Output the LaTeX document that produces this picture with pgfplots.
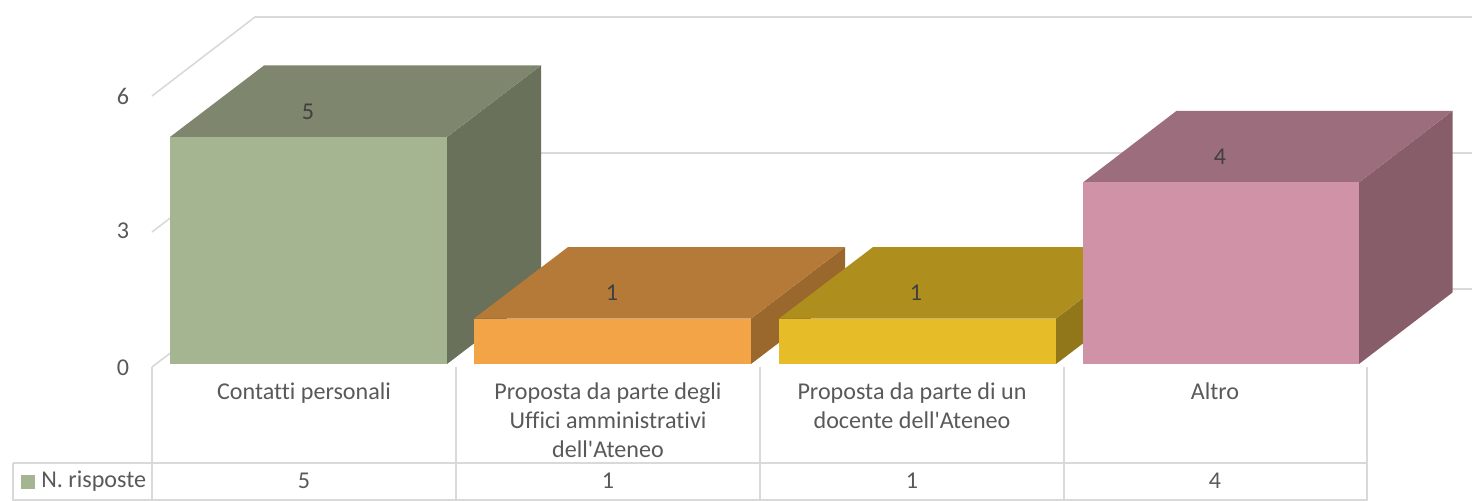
\documentclass[border=0pt]{standalone}
\usepackage{pgfplots}
\pgfplotsset{compat=1.18}
\usepackage{fontspec}
\setmainfont[Ligatures=NoCommon]{Carlito}
\definecolor{gridc}{HTML}{D9D9D9}
\definecolor{txt}{HTML}{595959}
\definecolor{lab}{HTML}{404040}
\definecolor{fa}{HTML}{A5B592}\definecolor{ta}{HTML}{7E866D}\definecolor{sa}{HTML}{69715B}
\definecolor{fb}{HTML}{F3A447}\definecolor{tb}{HTML}{B57A37}\definecolor{sb}{HTML}{9A682C}
\definecolor{fc}{HTML}{E7BC29}\definecolor{tc}{HTML}{AE8F1D}\definecolor{sc}{HTML}{92761A}
\definecolor{fd}{HTML}{D092A7}\definecolor{td}{HTML}{9C6E7D}\definecolor{sd}{HTML}{875D69}
\tikzset{n/.style={font=\fontsize{12.05}{14.5}\selectfont,text=txt},
  d/.style={font=\fontsize{12.05}{14.5}\selectfont,text=lab},
  c/.style={n,anchor=north,align=center,inner sep=0pt}}
\begin{document}
\begin{tikzpicture}
\useasboundingbox (0,0) rectangle (736pt,250.5pt);
\begin{axis}[
  at={(0,0)},anchor=south west,
  width=736pt,height=250.5pt,scale only axis,
  xmin=0,xmax=1472,ymin=-3.018,ymax=8.018,
  hide axis,clip=false,
  gl/.style={draw=gridc,line width=0.8pt},
]
% walls and gridlines
\addplot[gl] coordinates {(152,5.903)(255,7.643)(1472,7.643)};
\addplot[gl] coordinates {(152,2.907)(255,4.648)(1472,4.648)};
\addplot[gl] coordinates {(152,-0.066)(255,1.652)(1472,1.652)};
% bar 1
\addplot[fill=sa,draw=none] coordinates {(447,0)(541,1.575)(541,6.575)(447,5)} --cycle;
\addplot[fill=ta,draw=none] coordinates {(170,5)(447,5)(541,6.575)(264,6.575)} --cycle;
\addplot[ybar,bar width=277,bar shift=0pt,fill=fa,draw=none] coordinates {(308.5,5)};
% bar 2
\addplot[fill=sb,draw=none] coordinates {(751,0)(845,1.575)(845,2.575)(751,1)} --cycle;
\addplot[fill=tb,draw=none] coordinates {(474,1)(751,1)(845,2.575)(568,2.575)} --cycle;
\addplot[ybar,bar width=277,bar shift=0pt,fill=fb,draw=none] coordinates {(612.5,1)};
% bar 3
\addplot[fill=sc,draw=none] coordinates {(1056,0)(1150,1.575)(1150,2.575)(1056,1)} --cycle;
\addplot[fill=tc,draw=none] coordinates {(779,1)(1056,1)(1150,2.575)(873,2.575)} --cycle;
\addplot[ybar,bar width=277,bar shift=0pt,fill=fc,draw=none] coordinates {(917.5,1)};
% bar 4
\addplot[fill=sd,draw=none] coordinates {(1359,0)(1452.5,1.575)(1452.5,5.575)(1359,4)} --cycle;
\addplot[fill=td,draw=none] coordinates {(1083,4)(1359,4)(1452.5,5.575)(1176.5,5.575)} --cycle;
\addplot[ybar,bar width=276,bar shift=0pt,fill=fd,draw=none] coordinates {(1221,4)};
% data table
\addplot[gl] coordinates {(13,-2.181)(1367,-2.181)};
\addplot[gl] coordinates {(13,-2.996)(1367,-2.996)};
\addplot[gl] coordinates {(13,-2.181)(13,-3.018)};
\addplot[gl] coordinates {(152,-0.066)(152,-3.018)};
\addplot[gl] coordinates {(456,-0.066)(456,-3.018)};
\addplot[gl] coordinates {(760,-0.066)(760,-3.018)};
\addplot[gl] coordinates {(1064,-0.066)(1064,-3.018)};
\addplot[gl] coordinates {(1367,-0.066)(1367,-3.018)};
\fill[fa] (axis cs:21,-2.445) rectangle (axis cs:35,-2.753);
% axis numbers
\node[n] at (axis cs:123,5.90) {6};
\node[n] at (axis cs:123,2.93) {3};
\node[n] at (axis cs:123,-0.08) {0};
% data labels
\node[d] at (axis cs:308,5.55) {5};
\node[d] at (axis cs:612,1.564) {1};
\node[d] at (axis cs:916,1.564) {1};
\node[d] at (axis cs:1220,4.56) {4};
% categories
\node[c] at (axis cs:304,-0.33) {\strut Contatti personali};
\node[c] at (axis cs:608,-0.33) {\strut Proposta da parte degli\\Uffici amministrativi\\dell\textquotesingle Ateneo};
\node[c] at (axis cs:912,-0.33) {\strut Proposta da parte di un\\docente dell\textquotesingle Ateneo};
\node[c] at (axis cs:1215,-0.33) {\strut Altro};
% table row
\node[n,anchor=west,inner sep=0pt] at (axis cs:41,-2.577) {N. risposte};
\node[n] at (axis cs:304,-2.577) {5};
\node[n] at (axis cs:608,-2.577) {1};
\node[n] at (axis cs:912,-2.577) {1};
\node[n] at (axis cs:1215,-2.577) {4};
\end{axis}
\end{tikzpicture}
\end{document}
